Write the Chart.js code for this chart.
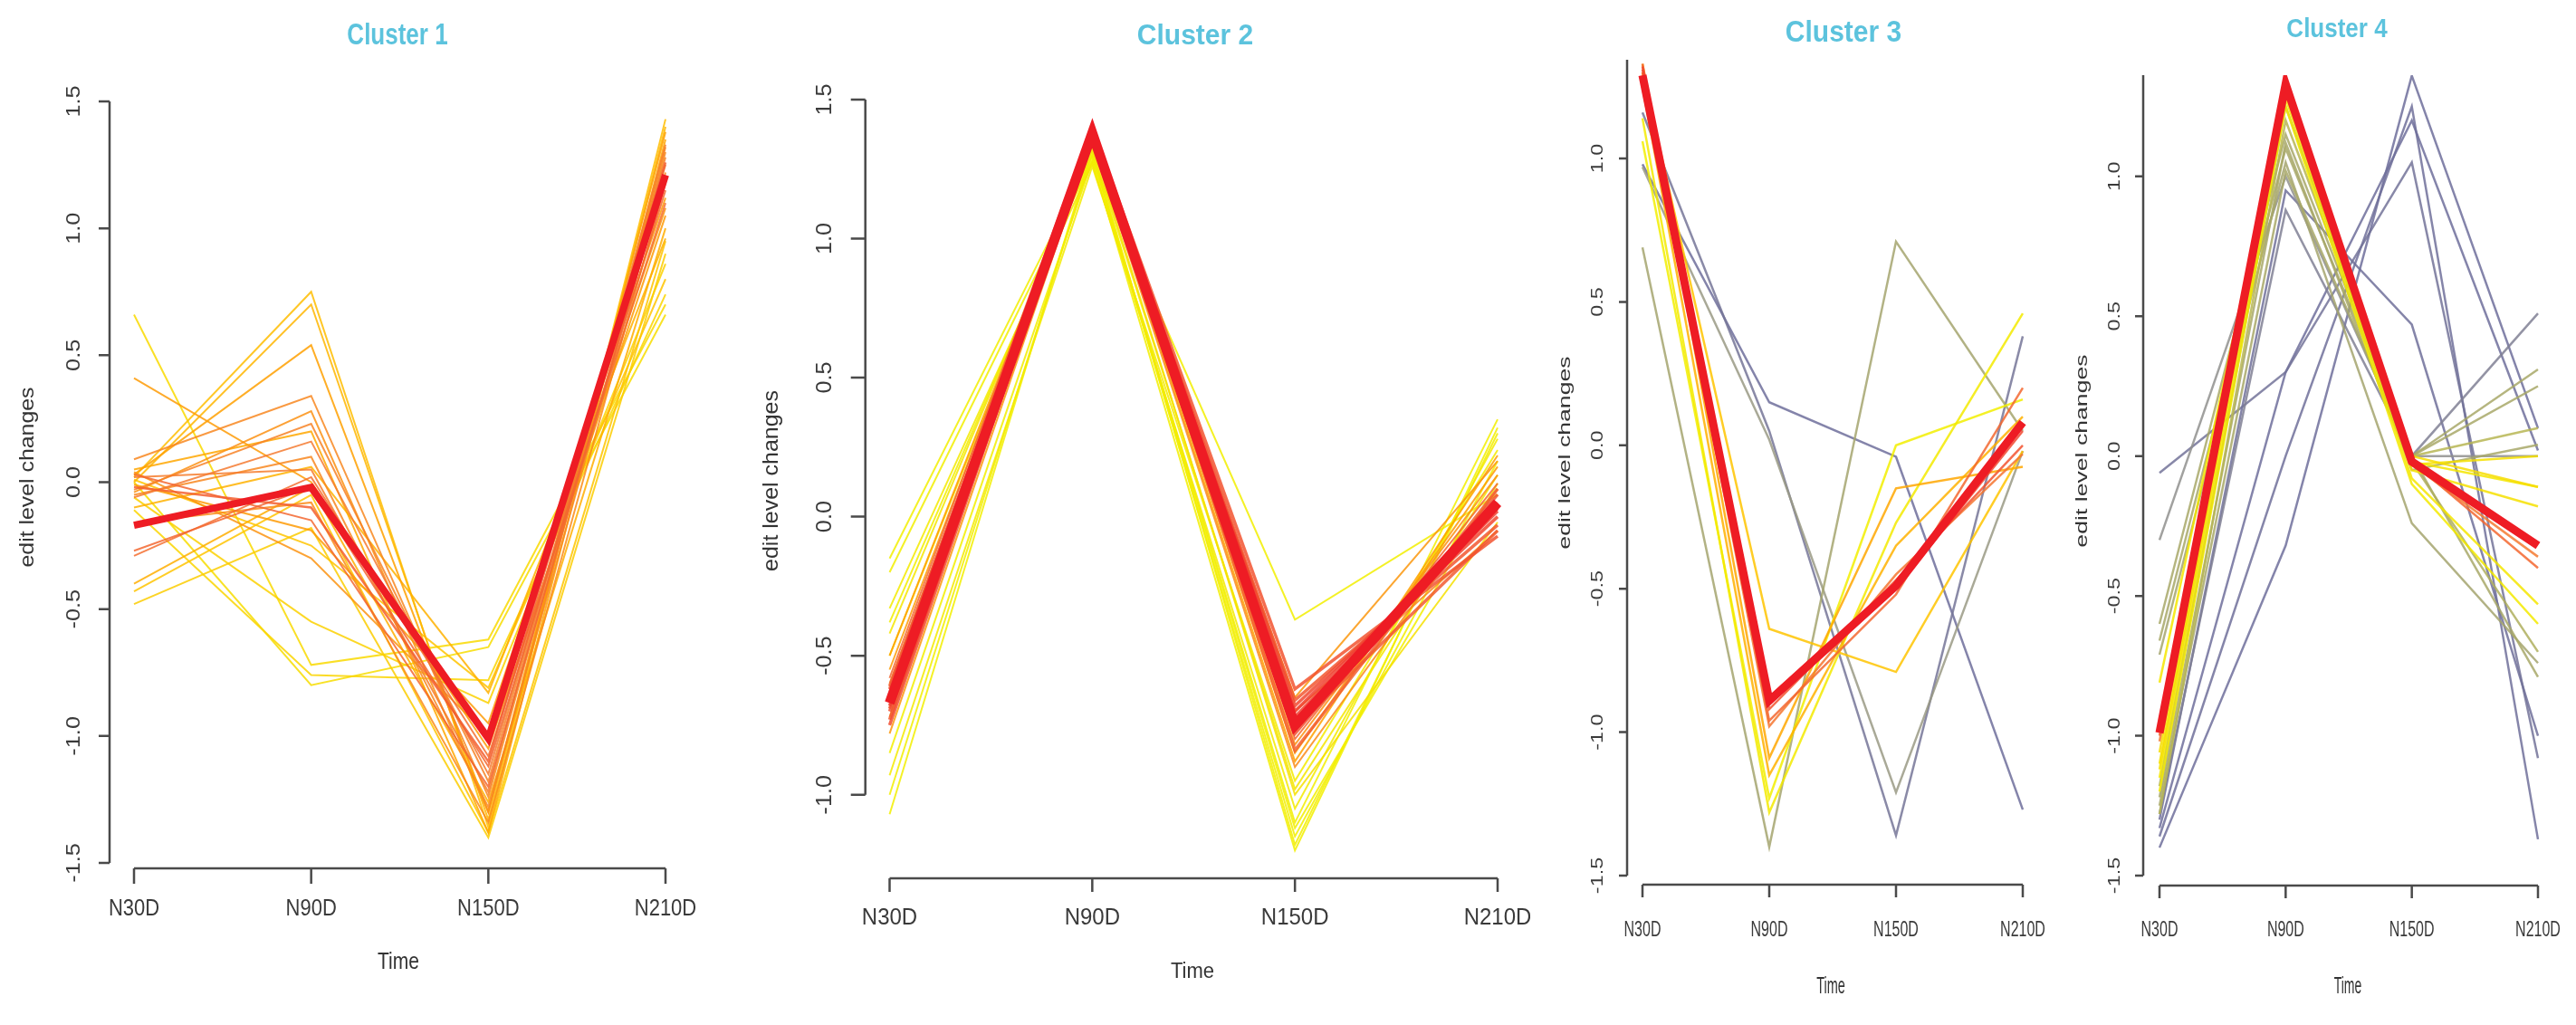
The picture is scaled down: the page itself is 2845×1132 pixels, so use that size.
<!DOCTYPE html>
<html>
<head>
<meta charset="utf-8">
<title>Clusters 1-4</title>
<script src="https://cdn.jsdelivr.net/npm/chart.js@4.4.1/dist/chart.umd.min.js"></script>
<style>
  body { margin: 0; background: #fff; overflow: hidden; }
  .panel { position: absolute; top: 0; height: 1132px; }
</style>
</head>
<body>
<div class="panel" style="left:0;width:790px"><canvas id="c1"></canvas></div>
<div class="panel" style="left:790px;width:900px"><canvas id="c2"></canvas></div>
<div class="panel" style="left:1690px;width:585px"><canvas id="c3"></canvas></div>
<div class="panel" style="left:2275px;width:570px"><canvas id="c4"></canvas></div>
<script>
// pontos de tempo (eixo x)
const timePoints = ['N30D', 'N90D', 'N150D', 'N210D'];

// ticks do eixo y de cada painel
const cluster1YTicks = [-1.5, -1.0, -0.5, 0.0, 0.5, 1.0, 1.5];
const cluster2YTicks = [-1.0, -0.5, 0.0, 0.5, 1.0, 1.5];
const cluster3YTicks = [-1.5, -1.0, -0.5, 0.0, 0.5, 1.0];
const cluster4YTicks = [-1.5, -1.0, -0.5, 0.0, 0.5, 1.0];

// Cluster 1: perfis, pertinência e centróide
const cluster1Profiles = [
  [0.66, -0.72, -0.62, 0.70],
  [-0.06, -0.55, -0.87, 0.86],
  [0.00, -0.80, -0.65, 0.66],
  [-0.11, -0.76, -0.78, 0.74],
  [0.41, 0.00, -1.05, 1.05],
  [0.02, 0.75, -1.36, 1.43],
  [0.00, 0.70, -1.33, 1.40],
  [0.03, 0.54, -1.30, 1.38],
  [0.09, 0.34, -1.24, 1.30],
  [-0.03, 0.23, -1.18, 1.28],
  [-0.06, 0.16, -1.15, 1.25],
  [-0.27, -0.02, -1.12, 1.15],
  [-0.29, 0.02, -1.08, 1.10],
  [-0.40, -0.02, -1.26, 1.00],
  [-0.43, -0.05, -1.38, 0.95],
  [-0.48, -0.18, -1.40, 0.90],
  [0.03, -0.15, -1.20, 1.20],
  [0.04, -0.30, -1.00, 1.08],
  [-0.01, -0.19, -0.95, 1.12],
  [0.02, 0.05, -1.22, 1.33],
  [-0.05, 0.10, -1.28, 1.22],
  [-0.16, -0.08, -1.34, 1.18],
  [0.05, 0.20, -1.38, 1.35],
  [-0.02, -0.10, -1.10, 1.26],
  [-0.10, 0.06, -0.83, 0.96],
  [0.01, -0.25, -0.81, 0.80],
  [-0.04, 0.28, -1.30, 1.32]
];
const cluster1Membership = [0.45, 0.47, 0.44, 0.46, 0.62, 0.52, 0.54, 0.6, 0.7, 0.72, 0.75, 0.8, 0.78, 0.56, 0.5, 0.48, 0.8, 0.65, 0.62, 0.74, 0.7, 0.68, 0.58, 0.82, 0.55, 0.5, 0.66];
const cluster1Centroid = [-0.17, -0.02, -1.01, 1.21];

// Cluster 2
const cluster2Profiles = [
  [-0.15, 1.30, -1.10, 0.35],
  [-0.20, 1.28, -1.20, 0.32],
  [-0.33, 1.27, -1.05, 0.28],
  [-0.38, 1.30, -1.15, 0.20],
  [-0.42, 1.32, -0.98, 0.15],
  [-0.85, 1.28, -0.37, 0.08],
  [-0.93, 1.26, -0.95, 0.24],
  [-1.00, 1.30, -1.12, 0.12],
  [-1.07, 1.32, -1.18, 0.30],
  [-0.50, 1.34, -1.00, -0.02],
  [-0.50, 1.36, -0.88, 0.22],
  [-0.55, 1.37, -0.85, 0.18],
  [-0.78, 1.35, -0.65, 0.20],
  [-0.60, 1.38, -0.70, -0.05],
  [-0.72, 1.36, -0.82, 0.15],
  [-0.66, 1.35, -0.90, 0.10],
  [-0.62, 1.40, -0.62, -0.07],
  [-0.64, 1.39, -0.68, 0.00],
  [-0.68, 1.38, -0.72, 0.03],
  [-0.70, 1.37, -0.78, 0.08],
  [-0.73, 1.39, -0.66, -0.03],
  [-0.58, 1.41, -0.80, 0.12],
  [-0.75, 1.38, -0.74, 0.05],
  [-0.66, 1.40, -0.70, 0.02],
  [-0.69, 1.36, -0.76, -0.05],
  [-0.61, 1.39, -0.84, 0.10]
];
const cluster2Membership = [0.4, 0.4, 0.41, 0.4, 0.42, 0.4, 0.41, 0.4, 0.4, 0.43, 0.6, 0.62, 0.64, 0.7, 0.66, 0.68, 0.85, 0.88, 0.9, 0.86, 0.84, 0.8, 0.87, 0.9, 0.83, 0.82];
const cluster2Centroid = [-0.67, 1.38, -0.75, 0.05];

// Cluster 3
const cluster3Profiles = [
  [0.69, -1.40, 0.71, 0.05],
  [0.98, 0.15, -0.04, -1.27],
  [1.16, 0.05, -1.36, 0.38],
  [0.97, 0.02, -1.21, -0.02],
  [1.06, -1.23, 0.00, 0.16],
  [1.14, -1.28, -0.27, 0.46],
  [1.30, -0.64, -0.79, -0.02],
  [1.33, -1.09, -0.15, -0.075],
  [1.25, -1.15, -0.35, 0.10],
  [1.33, -0.96, -0.52, 0.20],
  [1.31, -0.92, -0.47, 0.00],
  [1.32, -0.90, -0.50, 0.05],
  [1.30, -0.98, -0.45, -0.03]
];
const cluster3Membership = [0.28, 0.05, 0.08, 0.22, 0.4, 0.41, 0.5, 0.58, 0.55, 0.8, 0.85, 0.88, 0.76];
const cluster3Centroid = [1.29, -0.89, -0.49, 0.08];

// Cluster 4
const cluster4Profiles = [
  [-1.40, -0.32, 1.36, 0.10],
  [-1.36, 0.00, 1.25, -1.37],
  [-1.33, 0.30, 1.20, 0.02],
  [-0.06, 0.30, 1.05, -1.08],
  [-1.30, 0.95, 0.47, -1.00],
  [-1.28, 0.88, 0.00, 0.51],
  [-0.30, 1.00, 0.00, 0.00],
  [-0.60, 1.15, 0.00, 0.31],
  [-0.66, 1.10, 0.00, 0.25],
  [-0.71, 1.05, -0.24, -0.74],
  [-1.25, 1.02, 0.00, -0.79],
  [-1.28, 1.20, 0.00, 0.10],
  [-1.22, 1.12, -0.05, 0.04],
  [-1.18, 1.25, -0.02, -0.70],
  [-0.81, 1.30, -0.02, -0.11],
  [-1.10, 1.33, -0.05, -0.18],
  [-1.15, 1.28, -0.08, -0.53],
  [-1.20, 1.25, -0.10, -0.60],
  [-1.06, 1.35, 0.00, -0.11],
  [-1.12, 1.31, -0.03, 0.00],
  [-1.00, 1.32, -0.02, -0.40],
  [-1.02, 1.31, -0.03, -0.36]
];
const cluster4Membership = [0.05, 0.06, 0.05, 0.07, 0.06, 0.12, 0.18, 0.3, 0.3, 0.28, 0.3, 0.32, 0.3, 0.31, 0.42, 0.43, 0.42, 0.41, 0.44, 0.43, 0.8, 0.75];
const cluster4Centroid = [-0.99, 1.33, -0.02, -0.32];

// paleta de pertinência (baixa = azul, alta = vermelho)
const paleta = [
  [0.00, [96, 96, 160]],
  [0.20, [150, 150, 140]],
  [0.30, [168, 168, 104]],
  [0.40, [242, 238, 0]],
  [0.50, [255, 196, 0]],
  [0.60, [255, 160, 0]],
  [0.75, [245, 122, 48]],
  [0.90, [240, 64, 48]]
];

function corPertinencia(m) {
  for (let i = 1; i < paleta.length; i++) {
    if (m <= paleta[i][0]) {
      const a = paleta[i - 1], b = paleta[i];
      const t = (m - a[0]) / (b[0] - a[0]);
      const c = a[1].map((v, k) => Math.round(v + (b[1][k] - v) * t));
      return 'rgba(' + c.join(',') + ',0.85)';
    }
  }
  return 'rgba(' + paleta[paleta.length - 1][1].join(',') + ',0.85)';
}

// desenha texto esticado (o original foi redimensionado)
function texto(ctx, str, x, y, font, sy, rot, cor) {
  ctx.save();
  ctx.translate(x, y);
  ctx.scale(1, sy);
  if (rot) ctx.rotate(-Math.PI / 2);
  ctx.font = font;
  ctx.fillStyle = cor;
  ctx.textAlign = 'center';
  ctx.textBaseline = 'middle';
  ctx.fillText(str, 0, 0);
  ctx.restore();
}

// eixos no estilo do R base (linha só entre o primeiro e o último tick)
const eixosR = {
  id: 'eixosR',
  afterDraw(chart, args, o) {
    const ctx = chart.ctx, xs = chart.scales.x, ys = chart.scales.y;
    const fam = '"Liberation Sans", Arial, sans-serif';
    ctx.save();
    ctx.strokeStyle = '#4a4a4a';
    ctx.lineWidth = 2.5;
    ctx.beginPath();
    const yLo = ys.getPixelForValue(o.yTicks[0]);
    const yHi = ys.getPixelForValue(o.yLineTop);
    ctx.moveTo(o.yAxisX, yLo);
    ctx.lineTo(o.yAxisX, yHi);
    o.yTicks.forEach(v => {
      const p = ys.getPixelForValue(v);
      ctx.moveTo(o.yAxisX, p);
      ctx.lineTo(o.yAxisX - o.yTickLen, p);
    });
    const x0 = xs.getPixelForValue(0), x1 = xs.getPixelForValue(timePoints.length - 1);
    ctx.moveTo(x0, o.xAxisY);
    ctx.lineTo(x1, o.xAxisY);
    timePoints.forEach((t, i) => {
      const p = xs.getPixelForValue(i);
      ctx.moveTo(p, o.xAxisY);
      ctx.lineTo(p, o.xAxisY + o.xTickLen);
    });
    ctx.stroke();
    ctx.restore();

    // rótulos dos ticks
    timePoints.forEach((t, i) => {
      texto(ctx, t, xs.getPixelForValue(i), o.xLabelY, o.tickSize + 'px ' + fam, o.tickSy, false, '#3a3a3a');
    });
    o.yTicks.forEach(v => {
      texto(ctx, v.toFixed(1), o.yLabelX, ys.getPixelForValue(v), o.yTickSize + 'px ' + fam, o.yTickSy, true, '#3a3a3a');
    });
    // títulos
    texto(ctx, 'Time', o.timeX, o.timeY, o.axisSize + 'px ' + fam, o.axisSy, false, '#333');
    texto(ctx, 'edit level changes', o.ylabX, o.ylabY, o.ylabSize + 'px ' + fam, o.ylabSy, true, '#333');
    texto(ctx, o.title, o.titleX, o.titleY, 'bold ' + o.titleSize + 'px ' + fam, o.titleSy, false, '#5cc3dd');
  }
};

function montaGrafico(id, profiles, membership, centroid, yMin, yMax, pad, clipTop, larguras, eixo) {
  const recorte = clipTop ? { left: false, top: 0, right: false, bottom: false } : false;
  const datasets = profiles.map((p, i) => ({
    data: p,
    borderColor: corPertinencia(membership[i]),
    borderWidth: membership[i] > 0.8 ? larguras.forte : larguras.fina,
    pointRadius: 0,
    tension: 0,
    order: 2 - membership[i],
    clip: recorte
  }));
  datasets.push({
    data: centroid,
    borderColor: '#ee1c24',
    borderWidth: larguras.centro,
    pointRadius: 0,
    tension: 0,
    order: 0,
    clip: recorte
  });
  return new Chart(document.getElementById(id), {
    type: 'line',
    data: { labels: timePoints, datasets: datasets },
    options: {
      responsive: true,
      maintainAspectRatio: false,
      animation: false,
      events: [],
      layout: { padding: pad },
      scales: {
        x: { display: false, offset: false },
        y: { display: false, min: yMin, max: yMax }
      },
      plugins: {
        legend: { display: false },
        tooltip: { enabled: false },
        eixosR: eixo
      }
    },
    plugins: [eixosR]
  });
}

montaGrafico('c1', cluster1Profiles, cluster1Membership, cluster1Centroid, -1.5, 1.5,
  { left: 148, right: 55, top: 112, bottom: 179 }, false, { fina: 2, forte: 2.5, centro: 8 },
  { title: 'Cluster 1', yTicks: cluster1YTicks, yLineTop: 1.5,
    yAxisX: 121, yTickLen: 12, xAxisY: 959, xTickLen: 17,
    xLabelY: 1004, yLabelX: 82, tickSize: 22, tickSy: 1.2, yTickSize: 22, yTickSy: 1.15,
    timeX: 440, timeY: 1063, axisSize: 21, axisSy: 1.2,
    ylabX: 31, ylabY: 527, ylabSize: 22, ylabSy: 1.13,
    titleX: 439, titleY: 40, titleSize: 26, titleSy: 1.25 });

montaGrafico('c2', cluster2Profiles, cluster2Membership, cluster2Centroid, -1.0, 1.5,
  { left: 192.5, right: 36, top: 110, bottom: 254.3 }, false, { fina: 2, forte: 3.5, centro: 11 },
  { title: 'Cluster 2', yTicks: cluster2YTicks, yLineTop: 1.5,
    yAxisX: 165.7, yTickLen: 16, xAxisY: 970, xTickLen: 15,
    xLabelY: 1014, yLabelX: 121, tickSize: 24, tickSy: 1.05, yTickSize: 24, yTickSy: 1.05,
    timeX: 527, timeY: 1074, axisSize: 22, axisSy: 1.05,
    ylabX: 62, ylabY: 531, ylabSize: 24, ylabSy: 1.04,
    titleX: 530, titleY: 40, titleSize: 30, titleSy: 1.07 });

montaGrafico('c3', cluster3Profiles, cluster3Membership, cluster3Centroid, -1.5, 1.344,
  { left: 124, right: 41, top: 66, bottom: 165 }, true, { fina: 2.5, forte: 2.5, centro: 9 },
  { title: 'Cluster 3', yTicks: cluster3YTicks, yLineTop: 1.344,
    yAxisX: 107, yTickLen: 9, xAxisY: 977, xTickLen: 14,
    xLabelY: 1027, yLabelX: 75, tickSize: 16, tickSy: 1.55, yTickSize: 18, yTickSy: 1.3,
    timeX: 332, timeY: 1090, axisSize: 14.5, axisSy: 1.8,
    ylabX: 39, ylabY: 500, ylabSize: 18, ylabSy: 1.48,
    titleX: 346, titleY: 37, titleSize: 30, titleSy: 1.08 });

montaGrafico('c4', cluster4Profiles, cluster4Membership, cluster4Centroid, -1.5, 1.362,
  { left: 110, right: 42, top: 83, bottom: 165 }, true, { fina: 2.5, forte: 2.5, centro: 9 },
  { title: 'Cluster 4', yTicks: cluster4YTicks, yLineTop: 1.362,
    yAxisX: 92, yTickLen: 9, xAxisY: 978, xTickLen: 14,
    xLabelY: 1027, yLabelX: 61, tickSize: 16, tickSy: 1.55, yTickSize: 18, yTickSy: 1.3,
    timeX: 318, timeY: 1090, axisSize: 14, axisSy: 1.8,
    ylabX: 25, ylabY: 498, ylabSize: 18, ylabSy: 1.48,
    titleX: 306, titleY: 33, titleSize: 26, titleSy: 1.16 });
</script>
</body>
</html>
